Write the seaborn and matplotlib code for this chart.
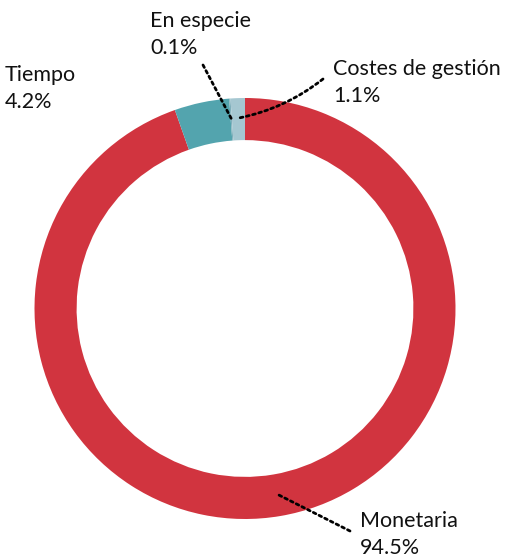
import numpy as np
import matplotlib
matplotlib.use("Agg")
import matplotlib.pyplot as plt
import seaborn as sns

# Share of each cost type (clockwise from 12 o'clock)
categories = ["Monetaria", "Tiempo", "En especie", "Costes de gestión"]
shares = [94.5, 4.2, 0.1, 1.1]
value_labels = ["94.5%", "4.2%", "0.1%", "1.1%"]
colors = ["#D1343F", "#53A4AE", "#7FAFBB", "#A5C7D1"]

sns.set_theme(style="white")
plt.rcParams["font.family"] = ["Lato", "DejaVu Sans"]

W, H = 511, 557
fig = plt.figure(figsize=(W / 100, H / 100), dpi=100)
ax = fig.add_axes([0, 0, 1, 1])

cx, cy, R = 245, H - 308.5, 210.5
wedges, _ = ax.pie(
    shares, colors=colors, startangle=90, counterclock=False,
    center=(cx, cy), radius=R, frame=True,
    wedgeprops=dict(width=R * 0.2, linewidth=0, antialiased=True),
)
ax.set_xlim(0, W)
ax.set_ylim(0, H)
ax.set_aspect("equal")
ax.axis("off")


def ring_point(w, r_frac):
    ang = np.deg2rad((w.theta1 + w.theta2) / 2)
    r = R * r_frac
    return cx + r * np.cos(ang), cy + r * np.sin(ang)


line_kw = dict(color="black", lw=2.0, linestyle=(0, (1, 1.3)))
text_kw = dict(fontsize=15.5, color="#111111", va="baseline", ha="left")
PITCH = 27


def label(i, x, baseline):
    ax.text(x, H - baseline, categories[i], **text_kw)
    ax.text(x, H - baseline - PITCH, value_labels[i], **text_kw)


# Monetaria
p = ring_point(wedges[0], 0.894)
ax.annotate("", xy=p, xytext=(350, H - 531),
            arrowprops=dict(arrowstyle="-", shrinkA=0, shrinkB=0, **line_kw))
label(0, 360, 527)

# Tiempo (label only)
label(1, 5, 81)

# En especie
p = ring_point(wedges[2], 0.905)
ax.annotate("", xy=p, xytext=(203, H - 65),
            arrowprops=dict(arrowstyle="-", shrinkA=0, shrinkB=0, **line_kw))
label(2, 150, 27)

# Costes de gestión
p = ring_point(wedges[3], 0.905)
ax.annotate("", xy=p, xytext=(323, H - 79),
            arrowprops=dict(arrowstyle="-", connectionstyle="arc3,rad=-0.12",
                            shrinkA=0, shrinkB=0, **line_kw))
label(3, 333, 75)

fig.savefig("out.png", dpi=100)
